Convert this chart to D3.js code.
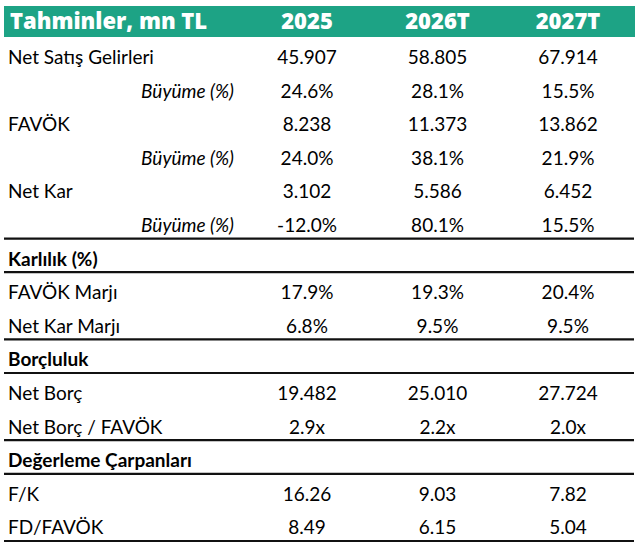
<!DOCTYPE html>
<html><head><meta charset="utf-8">
<script src="https://cdn.jsdelivr.net/npm/d3@7"></script>
<style>
html,body{margin:0;padding:0;background:#fff;}
svg{display:block;}
</style></head>
<body>
<svg id="chart" width="642" height="546"></svg>
<script>
// ---- data ----
const title = "Tahminler, mn TL";
const columns = ["2025", "2026T", "2027T"];
const rowLabels = ["Net Satış Gelirleri","Büyüme (%)","FAVÖK","Büyüme (%)","Net Kar","Büyüme (%)",
  "Karlılık (%)","FAVÖK Marjı","Net Kar Marjı","Borçluluk","Net Borç","Net Borç / FAVÖK",
  "Değerleme Çarpanları","F/K","FD/FAVÖK"];
const rowTypes = ["item","growth","item","growth","item","growth",
  "section","item","item","section","item","item","section","item","item"];
const values2025  = ["45.907","24.6%","8.238","24.0%","3.102","-12.0%","","17.9%","6.8%","","19.482","2.9x","","16.26","8.49"];
const values2026T = ["58.805","28.1%","11.373","38.1%","5.586","80.1%","","19.3%","9.5%","","25.010","2.2x","","9.03","6.15"];
const values2027T = ["67.914","15.5%","13.862","21.9%","6.452","15.5%","","20.4%","9.5%","","27.724","2.0x","","7.82","5.04"];
const ruleAfter = [5,6,8,9,11,12,14];

const seriesVals = [values2025, values2026T, values2027T];

// ---- layout ----
const svg = d3.select("#chart");
const left = 4, right = 635;
const headTop = 6, headBottom = 37, bodyBottom = 541;
const green = "#1da385";
const font = "Lato, 'Open Sans', sans-serif";
const headFont = "'Open Sans', Lato, sans-serif";
const fs = 19;

const x = d3.scalePoint().domain(columns).range([307, 568]);
const y = d3.scaleBand().domain(d3.range(rowLabels.length)).range([headBottom, bodyBottom]).padding(0);

// header band
svg.append("rect").attr("x", left).attr("y", headTop).attr("width", right-left).attr("height", headBottom-headTop).attr("fill", green);
svg.append("text").attr("x", 10).attr("y", 29).text(title)
  .attr("font-family", headFont).attr("font-weight", 800).attr("font-size", 22).attr("fill", "#fff");
svg.selectAll("text.colhead").data(columns).join("text").attr("class","colhead")
  .attr("x", d => x(d)).attr("y", 29).attr("text-anchor","middle").text(d => d)
  .attr("font-family", headFont).attr("font-weight", 800).attr("font-size", 22).attr("fill", "#fff");

// rows
const rows = svg.selectAll("g.row").data(rowLabels.map((l,i)=>({l,i,t:rowTypes[i]}))).join("g").attr("class","row")
  .attr("transform", d => `translate(0,${y(d.i)})`);

rows.append("text")
  .attr("x", d => d.t === "growth" ? 234 : 8)
  .attr("y", 27)
  .attr("text-anchor", d => d.t === "growth" ? "end" : "start")
  .attr("font-family", font)
  .attr("font-size", fs)
  .attr("font-weight", d => d.t === "section" ? 700 : 400)
  .attr("font-style", d => d.t === "growth" ? "italic" : "normal")
  .attr("fill", "#000")
  .text(d => d.l);

columns.forEach((c, ci) => {
  rows.append("text")
    .attr("x", x(c)).attr("y", 27).attr("text-anchor","middle")
    .attr("font-family", font).attr("font-size", fs).attr("fill","#000")
    .text(d => seriesVals[ci][d.i]);
});

// rules
svg.selectAll("line.rule").data(ruleAfter).join("line").attr("class","rule")
  .attr("x1", left).attr("x2", right - 1)
  .attr("y1", d => y(d) + y.bandwidth()).attr("y2", d => y(d) + y.bandwidth())
  .attr("stroke", "#111").attr("stroke-width", 2.2);
</script>
</body></html>
